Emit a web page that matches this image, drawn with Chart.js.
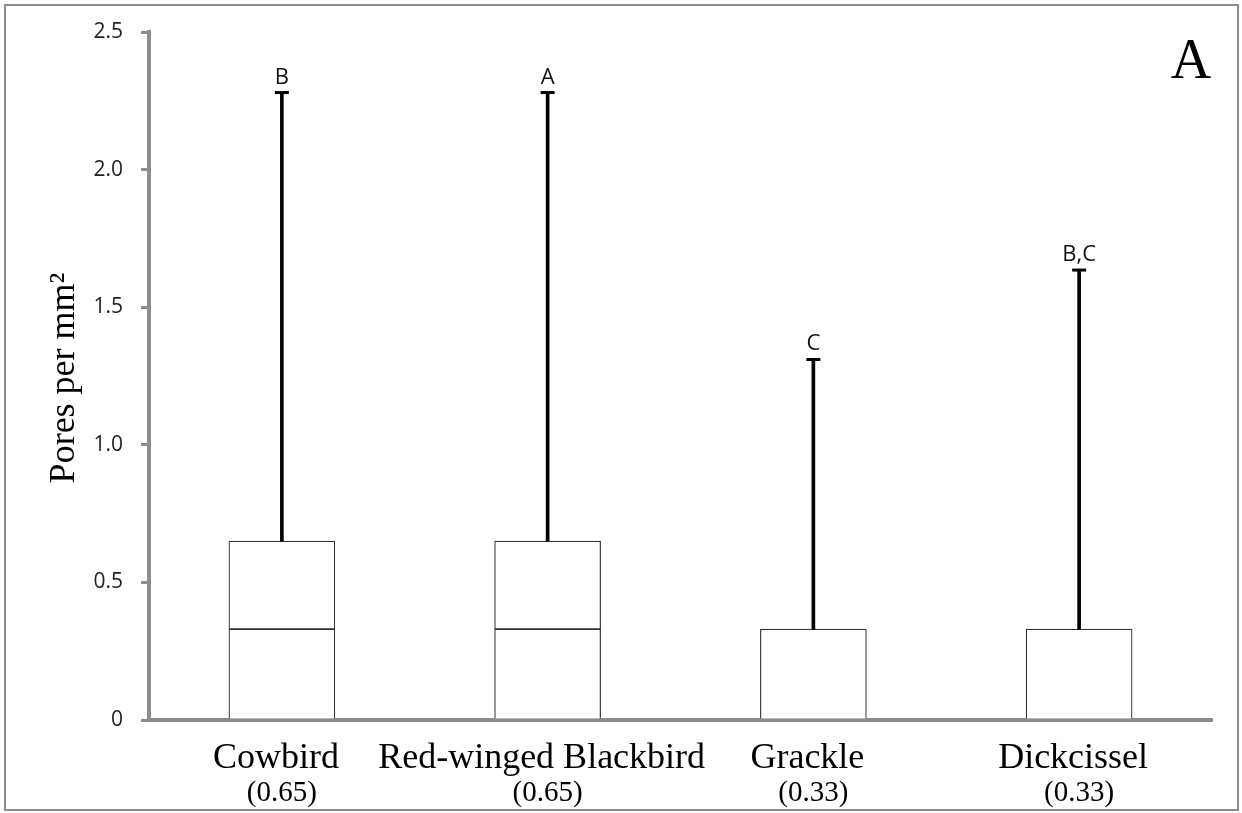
<!DOCTYPE html>
<html>
<head>
<meta charset="utf-8">
<script src="https://cdn.jsdelivr.net/npm/chart.js@4.4.1/dist/chart.umd.min.js"></script>
<style>
  html, body { margin: 0; padding: 0; background: #fff; }
  #wrap { position: relative; width: 1242px; height: 813px; }
  #frame {
    position: absolute; left: 4px; top: 4px; width: 1231px; height: 803px;
    border: 2px solid #8c8c8c; pointer-events: none;
  }
  canvas { position: absolute; left: 0; top: 0; }
</style>
</head>
<body>
<div id="wrap">
  <canvas id="pores-chart" width="1242" height="813"></canvas>
  <div id="frame"></div>
</div>
<script>
// ====== Data
const species = ["Cowbird", "Red-winged Blackbird", "Grackle", "Dickcissel"];
const medianLabels = ["(0.65)", "(0.65)", "(0.33)", "(0.33)"];
const q1Values = [0, 0, 0, 0];
const medianValues = [0.33, 0.33, 0.33, 0.33];
const q3Values = [0.65, 0.65, 0.33, 0.33];
const maxValues = [2.28, 2.28, 1.31, 1.635];
const groupLetters = ["B", "A", "C", "B,C"];
const yTicks = [0, 0.5, 1.0, 1.5, 2.0, 2.5];

const xPos = species.map((_, i) => i + 1);

const lowerBox = xPos.map((x, i) => ({ x, y: [q1Values[i], medianValues[i]] }));
const upperBox = xPos.map((x, i) => (
  q3Values[i] > medianValues[i] ? { x, y: [medianValues[i], q3Values[i]] } : { x, y: null }
));
const whisker = xPos.map((x, i) => ({ x, y: [q3Values[i], maxValues[i]] }));

// ====== Plugin: caps, letters, category labels, axis title, panel letter
const annotatePlugin = {
  id: "boxAnnotations",
  afterDatasetsDraw: (chart) => {
    const { ctx, scales, chartArea } = chart;
    ctx.save();

    // whisker caps + significance letters
    xPos.forEach((x, i) => {
      const px = scales.x.getPixelForValue(x);
      const py = scales.y.getPixelForValue(maxValues[i]);
      ctx.strokeStyle = "#000";
      ctx.lineWidth = 3;
      ctx.beginPath();
      ctx.moveTo(px - 7, py);
      ctx.lineTo(px + 7, py);
      ctx.stroke();

      ctx.fillStyle = "#111";
      ctx.font = "22px 'Open Sans'";
      ctx.textAlign = "center";
      ctx.textBaseline = "alphabetic";
      ctx.fillText(groupLetters[i], px, py - 9);
    });

    // category labels under the axis
    ctx.fillStyle = "#000";
    ctx.textAlign = "center";
    ctx.textBaseline = "alphabetic";
    xPos.forEach((x, i) => {
      const px = scales.x.getPixelForValue(x);
      ctx.font = "36px 'Liberation Serif'";
      ctx.fillText(species[i], px - 6, chartArea.bottom + 48);
      ctx.font = "29px 'Liberation Serif'";
      ctx.fillText(medianLabels[i], px, chartArea.bottom + 81);
    });

    // y axis title
    ctx.save();
    ctx.translate(74, (chartArea.top + chartArea.bottom) / 2 + 2);
    ctx.rotate(-Math.PI / 2);
    ctx.font = "36px 'Liberation Serif'";
    ctx.textAlign = "center";
    ctx.fillText("Pores per mm²", 0, 0);
    ctx.restore();

    // panel letter
    ctx.font = "56px 'Liberation Serif'";
    ctx.textAlign = "center";
    ctx.fillText("A", 1191, 78);

    ctx.restore();
  },
};

const ctx = document.getElementById("pores-chart").getContext("2d");

new Chart(ctx, {
  type: "bar",
  data: {
    datasets: [
      {
        label: "lower",
        data: lowerBox,
        backgroundColor: "#fff",
        borderColor: "#333",
        borderWidth: 1.2,
        borderSkipped: "bottom",
        barThickness: 106,
        grouped: false,
        order: 2,
      },
      {
        label: "upper",
        data: upperBox,
        backgroundColor: "#fff",
        borderColor: "#333",
        borderWidth: 1.2,
        borderSkipped: false,
        barThickness: 106,
        grouped: false,
        order: 2,
      },
      {
        label: "whisker",
        data: whisker,
        backgroundColor: "#000",
        borderWidth: 0,
        barThickness: 3,
        grouped: false,
        clip: false,
        order: 1,
      },
    ],
  },
  options: {
    responsive: false,
    animation: false,
    events: [],
    layout: { padding: { left: 0, right: 30, top: 32, bottom: 93 } },
    plugins: {
      legend: { display: false },
      tooltip: { enabled: false },
    },
    scales: {
      x: {
        type: "linear",
        offset: false,
        min: 0.5,
        max: 4.5,
        grid: { display: false },
        border: { display: true, color: "#8c8c8c", width: 4 },
        ticks: { display: false },
        afterFit: (scale) => { scale.height = 0; },
      },
      y: {
        min: 0,
        max: 2.5,
        afterBuildTicks: (scale) => { scale.ticks = yTicks.map(v => ({ value: v })); },
        afterFit: (scale) => { scale.width = 149; },
        border: { display: true, color: "#8c8c8c", width: 4 },
        grid: {
          drawOnChartArea: false,
          drawTicks: true,
          tickLength: 8,
          color: "#8c8c8c",
          lineWidth: 3,
        },
        ticks: {
          padding: 18,
          color: "#222",
          font: { family: "'Open Sans'", size: 21 },
          callback: (v) => (v === 0 ? "0" : Number(v).toFixed(1)),
        },
      },
    },
  },
  plugins: [annotatePlugin],
});
</script>
</body>
</html>
